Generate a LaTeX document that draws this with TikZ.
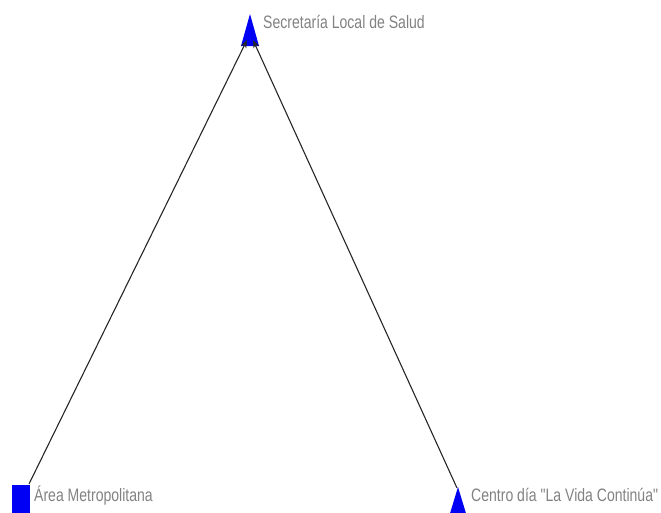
\documentclass[tikz,border=0pt]{standalone}
\usepackage{fontspec}
\setmainfont{Liberation Sans}
\newfontfamily\lblfont{Liberation Sans}
\usetikzlibrary{arrows.meta}
\definecolor{lbl}{RGB}{130,130,130}
\definecolor{nodeblue}{RGB}{0,0,245}
\begin{document}
\begin{tikzpicture}[x=1pt,y=-1pt,
  lab/.style={anchor=west,inner sep=0pt,text=lbl,font=\lblfont\fontsize{18}{18}\selectfont},
  link/.style={draw=black!85,line width=1.1pt,-{Stealth[length=8pt,width=6pt]}},
  tri/.style={fill=nodeblue}]
\useasboundingbox (0,0) rectangle (661,512);
% nodes (shapes)
\fill[tri] (250,14) -- (259,46) -- (241,46) -- cycle;
\fill[tri] (458,487) -- (468,520) -- (448,520) -- cycle;
\fill[nodeblue] (12,485) rectangle (30,520);
\coordinate (slsL) at (247,40);
\coordinate (slsR) at (253,40);
\coordinate (am) at (29,484);
\coordinate (cd) at (457,488);
\node[lab] (t1) at (263,22) {\scalebox{0.78}[1]{Secretaría Local de Salud}};
\node[lab] (t2) at (34,496) {\scalebox{0.78}[1]{Área Metropolitana}};
\node[lab] (t3) at (471,495) {\scalebox{0.78}[1]{Centro día \char"0022La Vida Continúa\char"0022}};
\draw[link] (am) -- (slsL);
\draw[link] (cd) -- (slsR);
\end{tikzpicture}
\end{document}
